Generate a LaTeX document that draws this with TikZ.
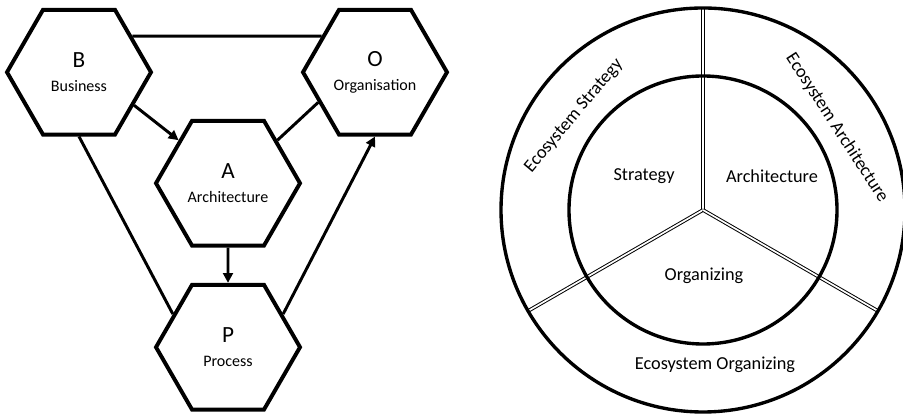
\documentclass[tikz,border=0pt]{standalone}
\usepackage{fontspec}
\setmainfont{Carlito}
\usetikzlibrary{arrows.meta, positioning, shapes.geometric, backgrounds}

\begin{document}
\begin{tikzpicture}[
    hexa/.style={regular polygon, regular polygon sides=6, draw=black,
                 line width=2.8pt, minimum size=3.6cm, inner sep=0pt,
                 align=center, font=\fontsize{11.4}{14}\selectfont},
    link/.style={black, line width=2.1pt},
    arr/.style={link, -{Triangle[length=7pt, width=7pt]}},
    ring/.style={circle, draw=black, line width=2.4pt,
                 inner sep=0pt, outer sep=0pt},
    split/.style={draw=black, double=white, double distance=1.2pt,
                  line width=0.7pt},
    lbl/.style={font=\fontsize{13}{15}\selectfont, inner sep=0pt},
  ]
  \useasboundingbox (0,0) rectangle (22.575,10.375);

  % ── BAOP hexagons ──
  \node[hexa] (B) at (1.975, 8.57)  {{\fontsize{16.5}{18}\selectfont B}\\[3pt]Business};
  \node[hexa] (O) at (9.375, 8.57)  {{\fontsize{16.5}{18}\selectfont O}\\[3pt]Organisation};
  \node[hexa] (A) at (5.7,   5.795) {{\fontsize{16.5}{18}\selectfont A}\\[3pt]Architecture};
  \node[hexa] (P) at (5.7,   1.695) {{\fontsize{16.5}{18}\selectfont P}\\[3pt]Process};

  \draw[link] (B.34)  -- (O.146);
  \draw[arr]  (B.-31) -- (A.139);
  \draw[link] (A.41)  -- (O.-152);
  \draw[arr]  (A)     -- (P);
  \draw[link] (B.-90) -- (P.149);
  \draw[arr]  (P.31)  -- (O.-90);

  % ── Ecosystem wheel ──
  \coordinate (hub) at (17.575, 5.125);
  \node[ring, minimum size=10.1cm] (outer) at (hub) {};
  \node[ring, minimum size=6.7cm]  (inner) at (hub) {};

  % splits go under the rings
  \begin{scope}[on background layer]
    \draw[split] (hub) -- (outer.90);
    \draw[split] (hub) -- (outer.210);
    \draw[split] (hub) -- (outer.330);
  \end{scope}

  \node[lbl] (strat) at (16.1,  5.975) {Strategy};
  \node[lbl] (arch)  at (19.3,  5.975) {Architecture};
  \node[lbl] (org)   at (17.6,  3.475) {Organizing};

  \node[lbl, rotate=50]  (ecoS) at (14.35, 7.475) {Ecosystem Strategy};
  \node[lbl, rotate=-57] (ecoA) at (20.925,7.175) {Ecosystem Architecture};
  \node[lbl]             (ecoO) at (17.875,1.25)  {Ecosystem Organizing};
\end{tikzpicture}
\end{document}
